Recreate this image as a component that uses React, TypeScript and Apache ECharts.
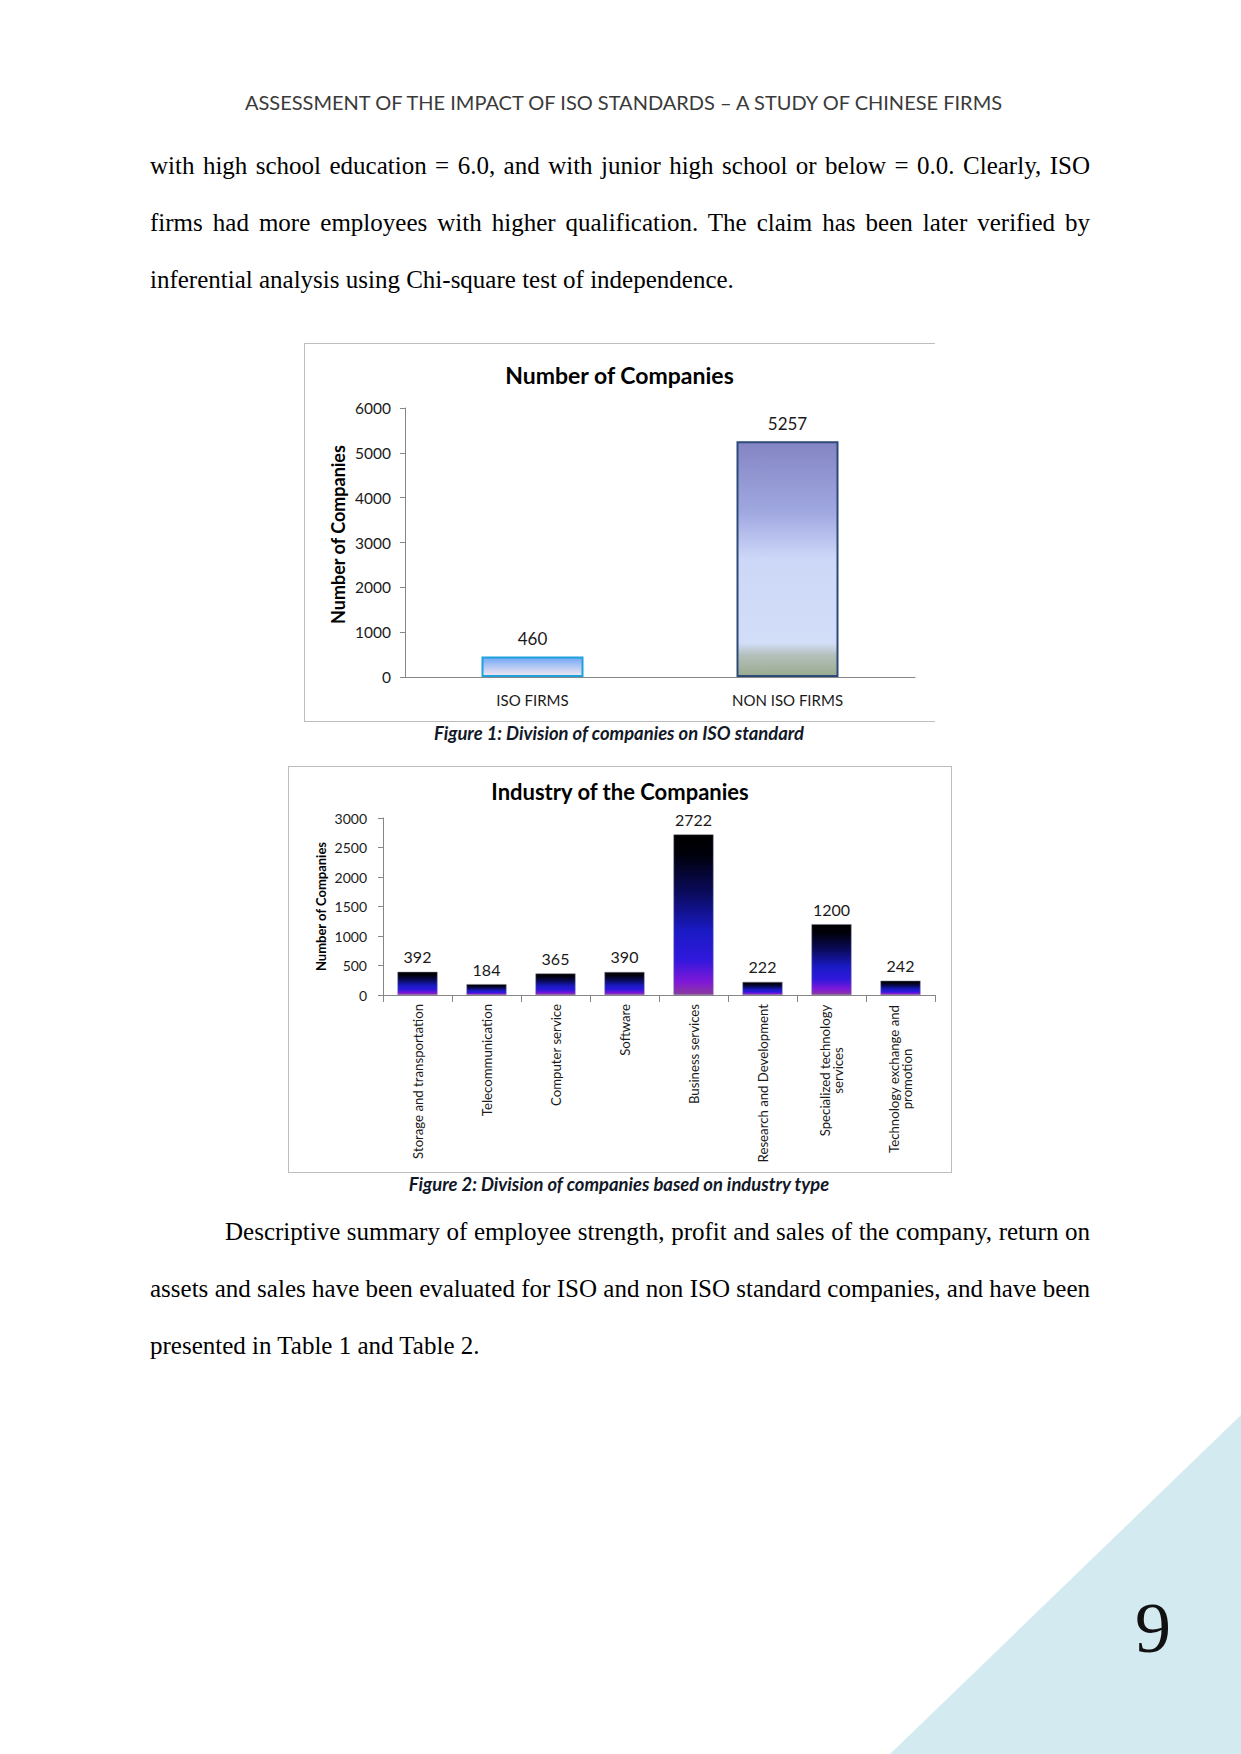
import React, { useEffect, useRef } from "react";
import * as echarts from "echarts";

// ---------- data ----------
const fig1Categories = ["ISO FIRMS", "NON ISO FIRMS"];
const fig1Values = [460, 5257];
const fig1YTicks = { min: 0, max: 6000, interval: 1000 };

const fig2Categories = [
  "Storage and transportation",
  "Telecommunication",
  "Computer service",
  "Software",
  "Business services",
  "Research and Development",
  "Specialized technology\nservices",
  "Technology exchange and\npromotion",
];
const fig2Values = [392, 184, 365, 390, 2722, 222, 1200, 242];
const fig2YTicks = { min: 0, max: 3000, interval: 500 };

const headerText = "ASSESSMENT OF THE IMPACT OF ISO STANDARDS \u2013 A STUDY OF CHINESE FIRMS";
const para1Lines = [
  "with high school education = 6.0, and with junior high school or below = 0.0. Clearly, ISO",
  "firms had more employees with higher qualification. The claim has been later verified by",
  "inferential analysis using Chi-square test of independence.",
];
const para2Lines = [
  "Descriptive summary of employee strength, profit and sales of the company, return on",
  "assets and sales have been evaluated for ISO and non ISO standard companies, and have been",
  "presented in Table 1 and Table 2.",
];
const caption1 = "Figure 1: Division of companies on ISO standard";
const caption2 = "Figure 2: Division of companies based on industry type";
const pageNumber = "9";

const SANS = "Lato, 'Open Sans', sans-serif";
const SERIF = "'Liberation Serif', 'Times New Roman', serif";

function grad(stops: [number, string][]) {
  return new echarts.graphic.LinearGradient(
    0, 0, 0, 1,
    stops.map(([offset, color]) => ({ offset, color }))
  );
}

function Chart1() {
  const ref = useRef<HTMLDivElement>(null);
  useEffect(() => {
    if (!ref.current) return;
    const chart = echarts.init(ref.current, undefined, { renderer: "svg" });
    const styles = [
      {
        color: grad([[0, "#6ea6f6"], [0.5, "#b4c8f4"], [1, "#f2e8f2"]]),
        borderColor: "#1fa2dc",
        borderWidth: 2,
      },
      {
        color: grad([
          [0, "#8485c4"],
          [0.3, "#a0a8e0"],
          [0.5, "#cdd8f8"],
          [0.86, "#d2ddf8"],
          [0.91, "#b4c0bc"],
          [1, "#9aab8e"],
        ]),
        borderColor: "#2d4a78",
        borderWidth: 2,
      },
    ];
    chart.setOption({
      animation: false,
      title: {
        text: "Number of Companies",
        left: "center",
        top: 15,
        textStyle: { fontFamily: SANS, fontSize: 23, fontWeight: "bold", color: "#000" },
      },
      grid: { left: 101, right: 20, top: 65, bottom: 45 },
      xAxis: {
        type: "category",
        data: fig1Categories,
        axisLine: { lineStyle: { color: "#868686", width: 1 } },
        axisTick: { show: false },
        axisLabel: { fontFamily: SANS, fontSize: 15, color: "#1a1a1a", margin: 15 },
      },
      yAxis: {
        type: "value",
        min: fig1YTicks.min,
        max: fig1YTicks.max,
        interval: fig1YTicks.interval,
        name: "Number of Companies",
        nameLocation: "middle",
        nameGap: 58,
        nameMoveOverlap: false,
        nameRotate: 90,
        nameTextStyle: {
          fontFamily: SANS,
          fontSize: 18,
          fontWeight: "bold",
          color: "#000",
          padding: [0, 0, 0, 16],
        },
        axisLine: { show: true, lineStyle: { color: "#868686", width: 1 } },
        axisTick: { show: true, length: 5, lineStyle: { color: "#868686" } },
        splitLine: { show: false },
        axisLabel: {
          fontFamily: SANS,
          fontSize: 15.5,
          color: "#1a1a1a",
          margin: 14,
          formatter: (v: number) => String(v),
        },
      },
      series: [
        {
          type: "bar",
          barWidth: 102,
          data: fig1Values.map((v, i) => ({ value: v, itemStyle: styles[i] })),
          label: {
            show: true,
            position: "top",
            distance: 9,
            fontFamily: SANS,
            fontSize: 17,
            color: "#1a1a1a",
          },
        },
      ],
    });
    return () => chart.dispose();
  }, []);
  return <div ref={ref} style={{ position: "absolute", left: 304, top: 343, width: 631, height: 379 }} />;
}

function Chart2() {
  const ref = useRef<HTMLDivElement>(null);
  useEffect(() => {
    if (!ref.current) return;
    const chart = echarts.init(ref.current, undefined, { renderer: "svg" });
    const labelFont = 13.2;
    const canvas = document.createElement("canvas");
    const ctx = canvas.getContext("2d");
    const measure = (s: string) => {
      if (!ctx) return s.length * 6.6;
      ctx.font = `${labelFont}px Lato`;
      return ctx.measureText(s).width;
    };
    const rich: Record<string, any> = {};
    const names: Record<string, string> = {};
    fig2Categories.forEach((c, i) => {
      if (c.includes("\n")) {
        const lines = c.split("\n");
        const w = Math.ceil(Math.max(...lines.map(measure))) + 1;
        const key = "m" + i;
        rich[key] = { width: w, align: "center", fontFamily: SANS, fontSize: labelFont, color: "#1a1a1a" };
        names[c] = lines.map((l) => `{${key}|${l}}`).join("\n");
      }
    });
    const barGrad = grad([
      [0, "#000000"],
      [0.12, "#00000a"],
      [0.35, "#0a0a58"],
      [0.6, "#1a1ac4"],
      [0.78, "#3018dc"],
      [0.92, "#8018d8"],
      [1, "#8a3c9c"],
    ]);
    chart.setOption({
      animation: false,
      title: {
        text: "Industry of the Companies",
        left: "center",
        top: 9,
        textStyle: { fontFamily: SANS, fontSize: 22, fontWeight: "bold", color: "#000" },
      },
      grid: { left: 95, right: 17, top: 52, bottom: 178 },
      xAxis: {
        type: "category",
        data: fig2Categories,
        axisLine: { lineStyle: { color: "#868686", width: 1 } },
        axisTick: { show: true, length: 7, alignWithLabel: false, lineStyle: { color: "#868686" } },
        axisLabel: {
          interval: 0,
          rotate: 90,
          margin: 9,
          fontFamily: SANS,
          fontSize: labelFont,
          color: "#1a1a1a",
          formatter: (v: string) => names[v] || v,
          rich,
        },
      },
      yAxis: {
        type: "value",
        min: fig2YTicks.min,
        max: fig2YTicks.max,
        interval: fig2YTicks.interval,
        name: "Number of Companies",
        nameLocation: "middle",
        nameGap: 56,
        nameMoveOverlap: false,
        nameRotate: 90,
        nameTextStyle: { fontFamily: SANS, fontSize: 13, fontWeight: "bold", color: "#000" },
        axisLine: { show: true, lineStyle: { color: "#868686", width: 1 } },
        axisTick: { show: true, length: 5, lineStyle: { color: "#868686" } },
        splitLine: { show: false },
        axisLabel: {
          fontFamily: SANS,
          fontSize: 14,
          color: "#1a1a1a",
          margin: 16,
          formatter: (v: number) => String(v),
        },
      },
      series: [
        {
          type: "bar",
          barWidth: 40,
          itemStyle: { color: barGrad, borderColor: "#7a7a9a", borderWidth: 0.5 },
          data: fig2Values,
          label: {
            show: true,
            position: "top",
            distance: 7,
            fontFamily: SANS,
            fontSize: 16,
            color: "#1a1a1a",
          },
        },
      ],
    });
    return () => chart.dispose();
  }, []);
  return <div ref={ref} style={{ position: "absolute", left: 288, top: 766, width: 664, height: 407 }} />;
}

function Line({ text, top, left, width, justify }: { text: string; top: number; left: number; width: number; justify: boolean }) {
  return (
    <div
      style={{
        position: "absolute",
        left,
        top,
        width,
        height: 57,
        lineHeight: "57px",
        fontFamily: SERIF,
        fontSize: 25,
        color: "#000",
        textAlign: justify ? "justify" : "left",
        textAlignLast: justify ? "justify" : "left",
        whiteSpace: "nowrap",
      } as React.CSSProperties}
    >
      {text}
    </div>
  );
}

function Caption({ text, top }: { text: string; top: number }) {
  return (
    <div
      style={{
        position: "absolute",
        left: 0,
        width: 1238,
        top,
        height: 24,
        lineHeight: "24px",
        textAlign: "center",
        fontFamily: SANS,
        fontSize: 18.4,
        fontWeight: "bold",
        fontStyle: "italic",
        color: "#111827",
        whiteSpace: "nowrap",
      }}
    >
      {text}
    </div>
  );
}

export default function App() {
  const p1Centers = [165, 222, 279];
  const p2Centers = [1231, 1288, 1345];
  return (
    <div
      style={{
        position: "absolute",
        left: 0,
        top: 0,
        width: 1241,
        height: 1754,
        background: "#fff",
        overflow: "hidden",
      }}
    >
      <svg width={1241} height={1754} style={{ position: "absolute", left: 0, top: 0 }}>
        <polygon points="890,1754 1241,1415 1241,1754" fill="#d3eaf0" />
      </svg>
      <div
        style={{
          position: "absolute",
          left: 0,
          width: 1247,
          top: 89,
          height: 26,
          lineHeight: "26px",
          textAlign: "center",
          fontFamily: SANS,
          fontSize: 20,
          color: "#3a3a3a",
          whiteSpace: "nowrap",
        }}
      >
        {headerText}
      </div>
      {para1Lines.map((t, i) => (
        <Line key={"a" + i} text={t} top={p1Centers[i] - 28.5} left={150} width={940} justify={i < para1Lines.length - 1} />
      ))}
      {para2Lines.map((t, i) => (
        <Line
          key={"b" + i}
          text={t}
          top={p2Centers[i] - 28.5}
          left={i === 0 ? 225 : 150}
          width={i === 0 ? 865 : 940}
          justify={i < para2Lines.length - 1}
        />
      ))}
      {/* figure 1 frame */}
      <div
        style={{
          position: "absolute",
          left: 304,
          top: 343,
          width: 631,
          height: 379,
          borderTop: "1px solid #bdbdbd",
          borderLeft: "1px solid #bdbdbd",
          borderBottom: "1px solid #bdbdbd",
          boxSizing: "border-box",
        }}
      />
      <Chart1 />
      <Caption text={caption1} top={721} />
      {/* figure 2 frame */}
      <div
        style={{
          position: "absolute",
          left: 288,
          top: 766,
          width: 664,
          height: 407,
          border: "1px solid #bdbdbd",
          boxSizing: "border-box",
        }}
      />
      <Chart2 />
      <Caption text={caption2} top={1172} />
      <div
        style={{
          position: "absolute",
          left: 1103,
          width: 100,
          top: 1588,
          height: 80,
          lineHeight: "80px",
          textAlign: "center",
          fontFamily: SERIF,
          fontSize: 72,
          color: "#111",
        }}
      >
        {pageNumber}
      </div>
    </div>
  );
}
